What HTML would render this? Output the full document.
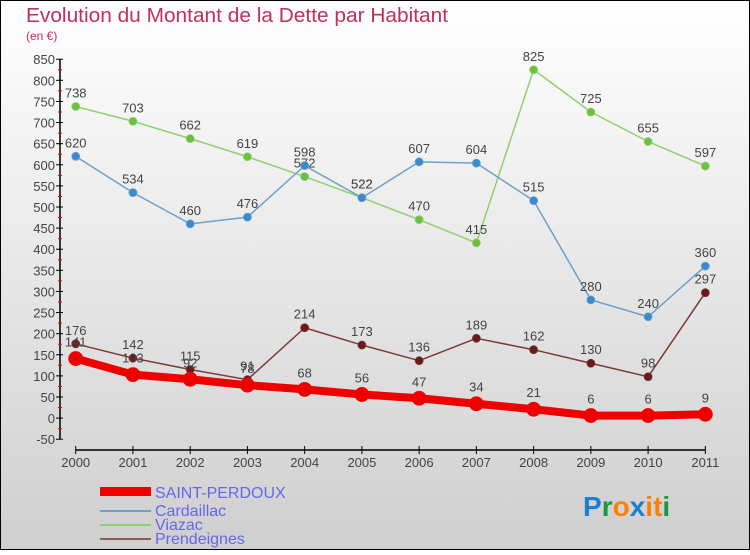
<!DOCTYPE html>
<html><head><meta charset="utf-8"><style>
html,body{margin:0;padding:0}
body{width:750px;height:550px;overflow:hidden;font-family:"Liberation Sans",sans-serif}
</style></head><body>
<svg id="chart" width="750" height="550" xmlns="http://www.w3.org/2000/svg">
<defs><linearGradient id="bg" x1="0" y1="0" x2="0" y2="1"><stop offset="0" stop-color="#ffffff"/><stop offset="1" stop-color="#cfcfcf"/></linearGradient></defs>
<rect x="0.5" y="0.5" width="749" height="549" fill="url(#bg)" stroke="#000"/>
<text x="26" y="22" font-size="20" fill="#c0305a" textLength="422" lengthAdjust="spacingAndGlyphs">Evolution du Montant de la Dette par Habitant</text>
<text x="26" y="40" font-size="12" fill="#c0305a">(en €)</text>
<g id="axes"></g>
<g id="series"></g>
<g>
<rect x="100" y="487" width="51" height="9" fill="#ee0000"/>
<text x="155" y="498" font-size="16" fill="#6666ee">SAINT-PERDOUX</text>
<rect x="100" y="510" width="51" height="2" fill="#6fa0c8"/>
<text x="155" y="516" font-size="16" fill="#6666ee">Cardaillac</text>
<rect x="100" y="524" width="51" height="2" fill="#8fd070"/>
<text x="155" y="530" font-size="16" fill="#6666ee">Viazac</text>
<rect x="100" y="538" width="51" height="2" fill="#8a5a5a"/>
<text x="155" y="544" font-size="16" fill="#6666ee">Prendeignes</text>
</g>
<text x="583" y="516" font-size="28" font-weight="bold"><tspan fill="#1a7fd0">P</tspan><tspan fill="#1a9a40">r</tspan><tspan fill="#ff8000">o</tspan><tspan fill="#1a7fd0">x</tspan><tspan fill="#ff8000">i</tspan><tspan fill="#ff8000">t</tspan><tspan fill="#1a9a40">i</tspan></text>
</svg>
<script>
const years = ["2000","2001","2002","2003","2004","2005","2006","2007","2008","2009","2010","2011"];
const saintPerdoux = [141,103,92,78,68,56,47,34,21,6,6,9];
const cardaillac = [620,534,460,476,598,522,607,604,515,280,240,360];
const viazac = [738,703,662,619,572,522,470,415,825,725,655,597];
const prendeignes = [176,142,115,91,214,173,136,189,162,130,98,297];
const yTicks = [-50,0,50,100,150,200,250,300,350,400,450,500,550,600,650,700,750,800,850];
const NS="http://www.w3.org/2000/svg";
const x = i => 75.7 + i*57.24;
const y = v => 418.1 - v*0.4222;
function mk(tag, attrs, parent){const e=document.createElementNS(NS,tag);for(const k in attrs)e.setAttribute(k,attrs[k]);parent.appendChild(e);return e;}
const axes=document.getElementById('axes');
const yAxis=mk('line',{x1:60,y1:y(850),x2:60,y2:y(-50),stroke:'#000','stroke-width':1.5},axes);


yTicks.forEach(v=>{
  const t=mk('line',{x1:56,y1:y(v),x2:63,y2:y(v),stroke:'#000'},axes);
  
  
  if(v<850){const m=mk('line',{x1:58,y1:y(v+25),x2:62,y2:y(v+25),stroke:'#e00'},axes);
  
  }
  const l=mk('text',{x:55,y:y(v)+5,'font-size':13,fill:'#444','text-anchor':'end'},axes);
  l.textContent=v;
  
  
});
const xAxis=mk('line',{x1:x(0),y1:450,x2:x(11),y2:450,stroke:'#000','stroke-width':1.5},axes);


years.forEach((yr,i)=>{
  const t=mk('line',{x1:x(i),y1:446,x2:x(i),y2:454,stroke:'#000'},axes);
  
  
  const l=mk('text',{x:x(i),y:467,'font-size':13,fill:'#444','text-anchor':'middle'},axes);
  l.textContent=yr;
  
  
});
const sg=document.getElementById('series');
function draw(vals,name,color,dot,lw,r){
  const g=mk('g',{},sg);
  
  
  const p=mk('polyline',{points:vals.map((v,i)=>x(i)+','+y(v)).join(' '),fill:'none',stroke:color,'stroke-width':lw,'stroke-linejoin':'round'},g);
  
  
  vals.forEach((v,i)=>{
    const c=mk('circle',{cx:x(i),cy:y(v),r:r,fill:dot,stroke:color,'stroke-width':0.8},g);
    
    
    const t=mk('text',{x:x(i),y:y(v)-(r+5),'font-size':13,fill:'#444','text-anchor':'middle'},g);
    t.textContent=v;
    
    
  });
}
draw(prendeignes,'prendeignes','#7a3a3a','#6a1a1a',1.5,4);
draw(viazac,'viazac','#8fd070','#6cc040',1.5,4);
draw(cardaillac,'cardaillac','#6fa0c8','#3a8ad0',1.5,4);
draw(saintPerdoux,'saint-perdoux','#ee0000','#ee0000',8,7);
</script>
</body></html>
